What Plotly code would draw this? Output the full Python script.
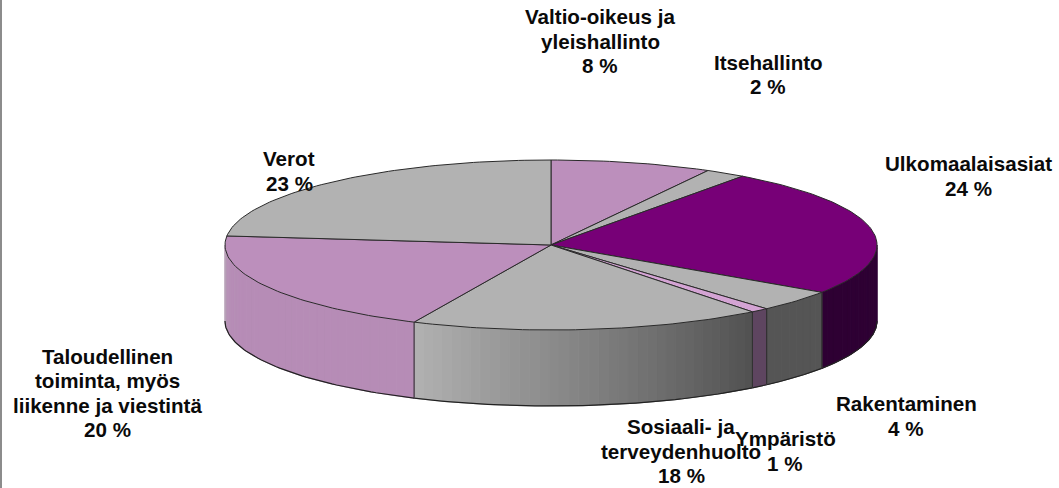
import math
import plotly.graph_objects as go

categories = ["Valtio-oikeus ja<br>yleishallinto", "Itsehallinto", "Ulkomaalaisasiat", "Rakentaminen",
              "Ympäristö", "Sosiaali- ja<br>terveydenhuolto", "Taloudellinen<br>toiminta, myös<br>liikenne ja viestintä", "Verot"]
shares = [8.0, 2.0, 24.4, 4.1, 0.9, 17.5, 19.8, 23.3]
shown_percent = [8, 2, 24, 4, 1, 18, 20, 23]

top_colors = ["#BC8FBC", "#B2B2B2", "#770077", "#B2B2B2", "#D4A4D4", "#B2B2B2", "#BC8FBC", "#B2B2B2"]
# wall shading: colour at the start and end of each slice's wall (clockwise)
wall_from = ["#000000", "#000000", "#2E0033", "#555555", "#5E4560", "#525252", "#B68CB6", "#888888"]
wall_to = ["#000000", "#000000", "#2E0033", "#555555", "#5E4560", "#B0B0B0", "#B8A4B8", "#888888"]
wall_curve = [1, 1, 1, 1, 1, 1, 14, 1]

label_x = [600, 768, 968, 906, 785, 681, 107, 289]
label_y = [41, 74.5, 176, 416, 451, 451, 393, 171]
LINE_PITCH = 24.5

CX, CY, RX, RY, DEPTH = 551, 245, 326, 85, 76


def px(a):
    return CX + RX * math.sin(a)


def py(a):
    return CY - RY * math.cos(a)


def hex_mix(c1, c2, t):
    a = [int(c1[i:i + 2], 16) for i in (1, 3, 5)]
    b = [int(c2[i:i + 2], 16) for i in (1, 3, 5)]
    return "rgb(%d,%d,%d)" % tuple(round(u + (v - u) * t) for u, v in zip(a, b))


fig = go.Figure()
total = sum(shares)
bounds = [0.0]
for s in shares:
    bounds.append(bounds[-1] + s / total * 2 * math.pi)

# side walls (front half only)
for i in range(len(shares)):
    a0, a1 = max(bounds[i], math.pi / 2), min(bounds[i + 1], math.pi * 1.5)
    if a1 <= a0:
        continue
    strips = max(1, int((a1 - a0) / 0.03))
    for k in range(strips):
        s0 = a0 + (a1 - a0) * k / strips
        s1 = a0 + (a1 - a0) * (k + 1) / strips
        arc = [s0 + (s1 - s0) * j / 4 for j in range(5)]
        xs = [px(a) for a in arc] + [px(a) for a in arc[::-1]]
        ys = [py(a) for a in arc] + [py(a) + DEPTH for a in arc[::-1]]
        t = (k / max(1, strips - 1)) ** wall_curve[i]
        col = hex_mix(wall_from[i], wall_to[i], t)
        fig.add_trace(go.Scatter(x=xs + [xs[0]], y=ys + [ys[0]], mode="lines", fill="toself",
                                 fillcolor=col, line=dict(color=col, width=1), hoverinfo="skip"))
    # edge lines of the wall
    arc = [a0 + (a1 - a0) * j / 60 for j in range(61)]
    fig.add_trace(go.Scatter(x=[px(a) for a in arc], y=[py(a) + DEPTH for a in arc], mode="lines",
                             line=dict(color="#222222", width=1.2), hoverinfo="skip"))
    for a in (bounds[i], bounds[i + 1]):
        if math.pi * 0.6 < a < math.pi * 1.5:
            fig.add_trace(go.Scatter(x=[px(a), px(a)], y=[py(a), py(a) + DEPTH], mode="lines",
                                     line=dict(color="#303030", width=1), hoverinfo="skip"))

# top face
for i in range(len(shares)):
    n = max(6, int((bounds[i + 1] - bounds[i]) / 0.02))
    arc = [bounds[i] + (bounds[i + 1] - bounds[i]) * j / n for j in range(n + 1)]
    xs = [CX] + [px(a) for a in arc] + [CX]
    ys = [CY] + [py(a) for a in arc] + [CY]
    fig.add_trace(go.Scatter(x=xs, y=ys, mode="lines", fill="toself", fillcolor=top_colors[i],
                             line=dict(color="#2A2A2A", width=1), hoverinfo="skip"))

for name, pct, x, y in zip(categories, shown_percent, label_x, label_y):
    lines = name.split("<br>") + [f"{pct} %"]
    start = y - LINE_PITCH * (len(lines) - 1) / 2
    for n, line in enumerate(lines):
        fig.add_annotation(x=x, y=start + n * LINE_PITCH, xref="x", yref="y", text=f"<b>{line}</b>",
                           showarrow=False, align="center", xanchor="center", yanchor="middle",
                           font=dict(family="Liberation Sans", size=20.6, color="#0A0A0A"))

fig.update_layout(
    width=1059, height=488, margin=dict(l=0, r=0, t=0, b=0), showlegend=False,
    paper_bgcolor="white", plot_bgcolor="white",
    xaxis=dict(range=[0, 1059], visible=False, fixedrange=True),
    yaxis=dict(range=[488, 0], visible=False, fixedrange=True),
    shapes=[dict(type="line", xref="x", yref="y", x0=1, x1=1, y0=0, y1=488,
                 line=dict(color="#8C8C8C", width=2))],
)
fig.write_html("out.html", config={"displayModeBar": False},
               post_script="document.body.style.margin='0';document.body.style.overflow='hidden';")
